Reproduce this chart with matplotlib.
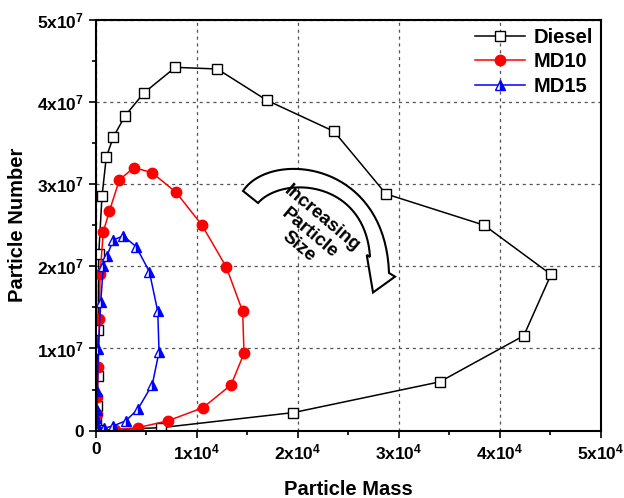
"""Particle number vs particle mass loops for Diesel, MD10 and MD15."""

import matplotlib

matplotlib.use("Agg")
import matplotlib.pyplot as plt
import numpy as np
from matplotlib.patches import Polygon
from matplotlib.ticker import FuncFormatter, MultipleLocator

plt.rcParams["font.family"] = ["Liberation Sans", "DejaVu Sans"]
plt.rcParams["font.weight"] = "bold"
plt.rcParams["mathtext.fontset"] = "custom"
plt.rcParams["mathtext.rm"] = "Liberation Sans:bold"
plt.rcParams["mathtext.bf"] = "Liberation Sans:bold"
plt.rcParams["mathtext.default"] = "bf"

# data (mass, number), loop order
diesel_mass = [20, 60, 120, 180, 240, 300, 620, 1050, 1740, 2900, 4780, 7880, 12040,
               16930, 23600, 28740, 38450, 45080, 42380, 34060, 19570, 6500, 300]
diesel_num = [0.1e6, 1.0e6, 3.0e6, 6.7e6, 12.2e6, 21.5e6, 28.5e6, 33.3e6, 35.7e6, 38.3e6,
              41.1e6, 44.2e6, 44.0e6, 40.2e6, 36.4e6, 28.8e6, 25.0e6, 19.0e6, 11.55e6,
              5.94e6, 2.2e6, 0.37e6, 0.05e6]

md10_mass = [30, 100, 160, 260, 360, 430, 750, 1350, 2340, 3760, 5570, 7950, 10520,
             12930, 14550, 14680, 13400, 10620, 7160, 4190, 1900, 200]
md10_num = [0.1e6, 2.0e6, 4.1e6, 7.8e6, 13.6e6, 19.0e6, 24.2e6, 26.7e6, 30.5e6, 32.0e6,
            31.4e6, 29.0e6, 25.0e6, 19.9e6, 14.5e6, 9.4e6, 5.57e6, 2.8e6, 1.2e6, 0.37e6,
            0.1e6, 0.02e6]

md15_mass = [20, 40, 60, 80, 160, 260, 500, 750, 1090, 1740, 2730, 3990, 5310, 6140,
             6270, 5600, 4160, 2970, 1710, 820, 200]
md15_num = [0.1e6, 0.8e6, 1.5e6, 2.5e6, 4.8e6, 9.9e6, 15.7e6, 20.0e6, 21.2e6, 23.2e6,
            23.7e6, 22.4e6, 19.35e6, 14.5e6, 9.6e6, 5.6e6, 2.6e6, 1.2e6, 0.57e6, 0.3e6,
            0.05e6]


def sci(v, pos):
    if v == 0:
        return "0"
    e = int(np.floor(np.log10(abs(v))))
    m = v / 10 ** e
    return f"{m:.0f}x10$^{{{e}}}$"


def px(x, y):
    # pixel position in the 624x498 picture -> axes fraction
    return ((x - 95.7) / 505.0, (430.7 - y) / 411.0)


def bezier(p0, p1, p2, p3, n=40):
    t = np.linspace(0, 1, n)[:, None]
    p0, p1, p2, p3 = (np.array(p) for p in (p0, p1, p2, p3))
    return (1 - t) ** 3 * p0 + 3 * (1 - t) ** 2 * t * p1 + 3 * (1 - t) * t ** 2 * p2 + t ** 3 * p3


fig = plt.figure(figsize=(6.24, 4.98), dpi=100)
ax = fig.add_axes([0.1534, 0.1352, 0.8093, 0.8253])

ax.plot(diesel_mass, diesel_num, color="black", lw=1.1, marker="s", ms=6.5,
        mfc="white", mec="black", mew=1.0, label="Diesel")
ax.plot(md10_mass, md10_num, color="red", lw=1.1, marker="o", ms=7.5,
        mfc="red", mec="red", label="MD10")
ax.plot(md15_mass, md15_num, color="blue", lw=1.1, marker="^", ms=7.5,
        fillstyle="right", mfc="blue", mfcalt="white", mec="blue", mew=1.0, label="MD15")

ax.set_xlim(0, 5e4)
ax.set_ylim(0, 5e7)
ax.xaxis.set_major_locator(MultipleLocator(1e4))
ax.xaxis.set_minor_locator(MultipleLocator(5e3))
ax.yaxis.set_major_locator(MultipleLocator(1e7))
ax.yaxis.set_minor_locator(MultipleLocator(5e6))
ax.xaxis.set_major_formatter(FuncFormatter(sci))
ax.yaxis.set_major_formatter(FuncFormatter(sci))
ax.tick_params(which="both", direction="out", top=False, right=False, width=1.2,
               labelsize=12.5)
ax.tick_params(which="major", length=5)
ax.tick_params(which="minor", length=3)
for s in ax.spines.values():
    s.set_linewidth(1.5)
ax.grid(True, which="major", color="#555555", ls=(0, (2.5, 3)), lw=0.9)
ax.set_axisbelow(True)

ax.set_xlabel("Particle Mass", fontsize=14.5, fontweight="bold", labelpad=13)
ax.set_ylabel("Particle Number", fontsize=14.5, fontweight="bold", labelpad=7)

leg = ax.legend(loc="upper right", frameon=False, fontsize=14.5, handlelength=2.5,
                borderaxespad=0.1, labelspacing=0.27, handletextpad=0.4,
                borderpad=0.3)

# curved "increasing particle size" arrow
outer = bezier(px(243, 191), px(270, 150), px(385, 160), px(389, 273))
inner = bezier(px(258, 203), px(283, 175), px(365, 180), px(370, 257))
head = [px(366.7, 255), px(373, 292.5), px(395, 276.7)]
outline = np.vstack([outer, head[::-1], inner[::-1]])
ax.add_patch(Polygon(outline, closed=True, transform=ax.transAxes, facecolor="white",
                     edgecolor="black", lw=1.5, zorder=4))
cx, cy = px(310, 233)
ax.text(cx, cy, "Increasing\nParticle\nSize", transform=ax.transAxes, rotation=-40,
        rotation_mode="anchor", ha="center", va="center", fontsize=13.5,
        fontweight="bold", linespacing=1.1, zorder=5)

fig.savefig("out.png", dpi=100)
